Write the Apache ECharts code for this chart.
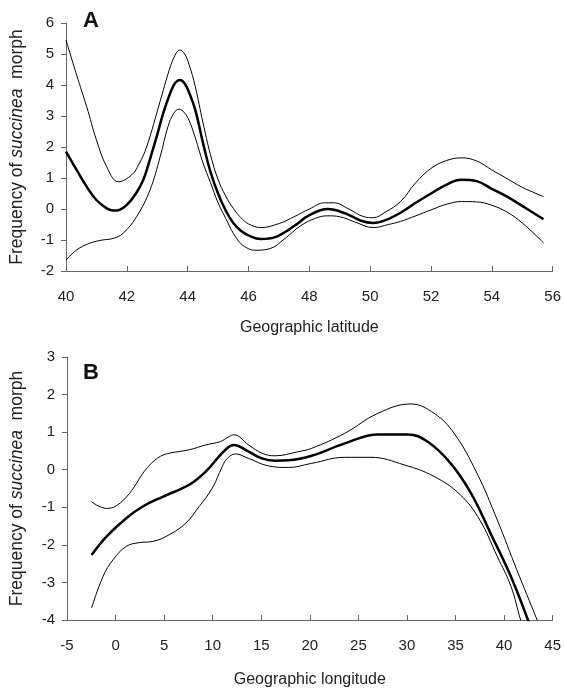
<!DOCTYPE html>
<html>
<head>
<meta charset="utf-8">
<script src="https://cdn.jsdelivr.net/npm/echarts@6/dist/echarts.min.js"></script>
<style>html,body{margin:0;padding:0;background:#fff}#c{width:564px;height:689px}</style>
</head>
<body>
<div id="c"></div>
<script>
// Panel A: geographic latitude
const aMeanX = [40.0, 40.35, 40.68, 41.0, 41.34, 41.55, 41.75, 42.0, 42.3, 42.54, 42.76, 43.0, 43.2, 43.45, 43.6, 43.75, 43.9, 44.05, 44.25, 44.5, 44.75, 45.0, 45.25, 45.5, 45.75, 46.0, 46.4, 46.9, 47.5, 48.0, 48.6, 49.2, 49.7, 50.1, 50.5, 51.0, 51.5, 52.0, 52.5, 53.0, 53.5, 54.0, 54.5, 55.0, 55.7];
const aMeanY = [1.85, 1.26, 0.72, 0.29, 0.02, -0.05, -0.03, 0.13, 0.5, 0.94, 1.6, 2.4, 3.1, 3.8, 4.08, 4.16, 4.05, 3.75, 3.2, 2.15, 1.2, 0.5, -0.05, -0.45, -0.7, -0.85, -0.97, -0.9, -0.55, -0.2, 0.0, -0.15, -0.38, -0.45, -0.36, -0.12, 0.2, 0.5, 0.78, 0.94, 0.9, 0.65, 0.4, 0.1, -0.33];
const aUpX = [40.0, 40.35, 40.68, 41.0, 41.34, 41.72, 42.16, 42.4, 42.65, 43.09, 43.4, 43.58, 43.74, 43.9, 44.05, 44.25, 44.5, 44.75, 45.0, 45.25, 45.5, 45.75, 46.0, 46.4, 47.03, 47.5, 48.0, 48.5, 48.8, 49.3, 49.8, 50.1, 50.5, 51.0, 51.5, 52.0, 52.5, 53.0, 53.5, 54.0, 54.5, 55.0, 55.7];
const aUpY = [5.45, 4.32, 3.3, 2.23, 1.36, 0.88, 1.1, 1.45, 2.0, 3.46, 4.5, 4.95, 5.13, 5.0, 4.65, 3.95, 2.8, 1.75, 0.95, 0.42, 0.02, -0.28, -0.48, -0.6, -0.46, -0.25, 0.0, 0.2, 0.2, 0.0, -0.25, -0.28, -0.1, 0.24, 0.85, 1.31, 1.56, 1.65, 1.55, 1.26, 0.98, 0.7, 0.4];
const aLowX = [40.0, 40.35, 40.79, 41.2, 41.55, 41.88, 42.32, 42.76, 43.1, 43.35, 43.55, 43.72, 43.88, 44.05, 44.25, 44.5, 44.75, 45.0, 45.25, 45.5, 45.75, 46.0, 46.2, 46.7, 47.2, 47.7, 48.2, 48.6, 49.0, 49.5, 50.1, 50.6, 51.0, 51.5, 52.0, 52.5, 53.0, 53.5, 54.0, 54.5, 55.0, 55.7];
const aLowY = [-1.65, -1.32, -1.1, -1.0, -0.95, -0.78, -0.25, 0.61, 1.7, 2.65, 3.1, 3.22, 3.12, 2.85, 2.3, 1.5, 0.85, 0.2, -0.3, -0.78, -1.12, -1.28, -1.33, -1.28, -0.95, -0.55, -0.3, -0.22, -0.25, -0.42, -0.6, -0.5, -0.4, -0.22, -0.03, 0.15, 0.24, 0.23, 0.12, -0.1, -0.45, -1.09];

// Panel B: geographic longitude
const bMeanX = [-2.47, -0.94, 1.1, 2.8, 4.85, 7.58, 9.28, 10.64, 11.67, 12.18, 13.7, 15.07, 16.4, 17.8, 20.19, 23.6, 27.0, 30.1, 32.1, 34.5, 36.6, 38.6, 40.7, 42.46, 43.0];
const bMeanY = [-2.27, -1.78, -1.29, -0.98, -0.72, -0.4, -0.05, 0.35, 0.61, 0.66, 0.48, 0.3, 0.24, 0.25, 0.37, 0.7, 0.94, 0.94, 0.75, 0.17, -0.63, -1.69, -2.84, -4.0, -4.4];
const bUpX = [-2.48, -0.94, 0.08, 1.44, 2.8, 3.5, 4.17, 4.8, 5.53, 7.58, 9.28, 10.8, 11.67, 12.18, 13.7, 15.07, 16.4, 18.8, 20.2, 23.6, 27.0, 30.4, 32.8, 34.85, 37.2, 39.3, 41.3, 43.4, 44.0];
const bUpY = [-0.85, -1.03, -0.96, -0.63, -0.1, 0.12, 0.28, 0.38, 0.44, 0.53, 0.66, 0.75, 0.88, 0.93, 0.66, 0.44, 0.37, 0.48, 0.57, 0.97, 1.5, 1.75, 1.5, 0.97, -0.09, -1.34, -2.66, -4.0, -4.4];
const bLowX = [-2.47, -1.29, -0.27, 1.1, 2.46, 3.82, 5.53, 7.24, 8.6, 9.96, 10.98, 11.5, 12.35, 13.7, 15.75, 17.8, 20.2, 23.6, 26.3, 29.7, 32.8, 35.5, 37.5, 39.3, 40.7, 41.7, 42.2];
const bLowY = [-3.68, -2.84, -2.4, -2.04, -1.94, -1.91, -1.73, -1.42, -0.98, -0.49, 0.08, 0.3, 0.42, 0.3, 0.1, 0.06, 0.17, 0.33, 0.33, 0.13, -0.18, -0.67, -1.34, -2.31, -3.1, -4.0, -4.4];

const zip = (xs, ys) => xs.map((x, i) => [x, ys[i]]);
const FONT = 'Liberation Sans, Arial, sans-serif';
const axisLine = { show: true, onZero: false, lineStyle: { color: '#666', width: 1 } };
const labelStyle = { color: '#222', fontSize: 15, fontFamily: FONT };
const yName = '{n|Frequency of }{i|succinea}{n|  morph}';
const nameRich = {
  n: { fontSize: 17.5, fontFamily: FONT, color: '#222' },
  i: { fontSize: 17.5, fontFamily: FONT, color: '#222', fontStyle: 'italic' }
};

function line(data, w, xi) {
  return { type: 'line', data, xAxisIndex: xi, yAxisIndex: xi, smooth: 0.4, symbol: 'none',
    lineStyle: { color: '#000', width: w }, clip: true, silent: true, animation: false };
}

const chart = echarts.init(document.getElementById('c'), null, { renderer: 'canvas' });
chart.setOption({
  animation: false,
  title: [
    { text: 'A', left: 78, top: 5, textStyle: { fontSize: 22, fontWeight: 'bold', fontFamily: FONT, color: '#111' } },
    { text: 'B', left: 78, top: 357, textStyle: { fontSize: 22, fontWeight: 'bold', fontFamily: FONT, color: '#111' } }
  ],
  grid: [
    { left: 66, top: 23, width: 487, height: 248 },
    { left: 67, top: 357, width: 489, height: 263 }
  ],
  xAxis: [
    { type: 'value', gridIndex: 0, min: 40, max: 56, interval: 2, axisLine, splitLine: { show: false },
      axisTick: { inside: true, length: 5, lineStyle: { color: '#666' } },
      axisLabel: Object.assign({ margin: 18 }, labelStyle),
      name: 'Geographic latitude', nameLocation: 'middle', nameGap: 49,
      nameTextStyle: { fontSize: 16, fontFamily: FONT, color: '#222' } },
    { type: 'value', gridIndex: 1, min: -5, max: 45, interval: 5, axisLine, splitLine: { show: false },
      axisTick: { inside: true, length: 5, lineStyle: { color: '#666' } },
      axisLabel: Object.assign({ margin: 18 }, labelStyle),
      name: 'Geographic longitude', nameLocation: 'middle', nameGap: 52,
      nameTextStyle: { fontSize: 16, fontFamily: FONT, color: '#222' } }
  ],
  yAxis: [
    { type: 'value', gridIndex: 0, min: -2, max: 6, interval: 1, axisLine,
      splitLine: { show: false }, axisTick: { show: true, length: 5, lineStyle: { color: '#666' } },
      axisLabel: Object.assign({ margin: 12 }, labelStyle),
      name: yName, nameLocation: 'middle', nameGap: 40, nameTextStyle: { rich: nameRich } },
    { type: 'value', gridIndex: 1, min: -4, max: 3, interval: 1, axisLine,
      splitLine: { show: false }, axisTick: { show: true, length: 5, lineStyle: { color: '#666' } },
      axisLabel: Object.assign({ margin: 12 }, labelStyle),
      name: yName, nameLocation: 'middle', nameGap: 41, nameTextStyle: { rich: nameRich } }
  ],
  series: [
    line(zip(aUpX, aUpY), 1, 0),
    line(zip(aLowX, aLowY), 1, 0),
    line(zip(aMeanX, aMeanY), 2.5, 0),
    line(zip(bUpX, bUpY), 1, 1),
    line(zip(bLowX, bLowY), 1, 1),
    line(zip(bMeanX, bMeanY), 2.5, 1)
  ]
});
</script>
</body>
</html>
